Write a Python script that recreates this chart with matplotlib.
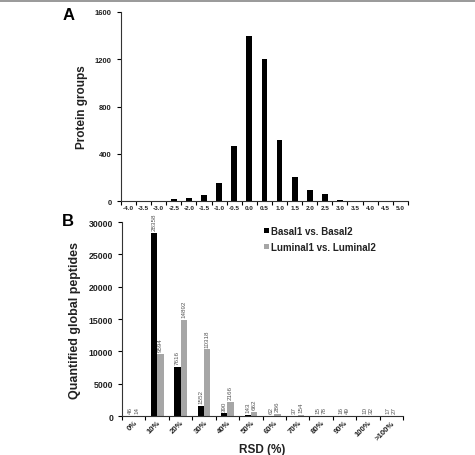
import matplotlib
matplotlib.use("Agg")
import matplotlib.pyplot as plt
from matplotlib.lines import Line2D
import numpy as np

plt.rcParams['font.family'] = ['Liberation Sans', 'DejaVu Sans']

# Panel A: log ratio distribution
ratio_labels = ['-4.0', '-3.5', '-3.0', '-2.5', '-2.0', '-1.5', '-1.0', '-0.5', '0.0',
                '0.5', '1.0', '1.5', '2.0', '2.5', '3.0', '3.5', '4.0', '4.5', '5.0']
protein_groups = [0, 0, 2, 15, 25, 50, 155, 465, 1400, 1200, 515, 200, 95, 60, 10, 0, 0, 0, 0]

# Panel B: RSD distribution
rsd_labels = ['0%', '10%', '20%', '30%', '40%', '50%', '60%', '70%', '80%', '90%', '100%', '>100%']
basal = [46, 28358, 7616, 1552, 390, 143, 62, 37, 15, 16, 10, 17]
luminal = [14, 9594, 14892, 10318, 2166, 662, 286, 154, 78, 49, 32, 27]

txt = '#222222'

fig = plt.figure(figsize=(4.75, 4.56), dpi=100)

# thin gray frame line at the top
fig.add_artist(Line2D([0, 1], [0.995, 0.995], color='#888888', linewidth=1.2))


def category_axis(ax, labels, fontsize, rotation=0):
    n = len(labels)
    x = np.arange(n)
    ax.set_xlim(-0.5, n - 0.5)
    ax.set_xticks(x)
    ax.set_xticklabels(labels, fontsize=fontsize, fontweight='bold', color=txt,
                       rotation=rotation, ha='right' if rotation else 'center',
                       rotation_mode='anchor' if rotation else 'default')
    ax.tick_params(axis='x', which='major', length=0, pad=3)
    ax.set_xticks(np.arange(n + 1) - 0.5, minor=True)
    ax.tick_params(axis='x', which='minor', length=3, width=0.8, direction='out')
    for s in ['top', 'right']:
        ax.spines[s].set_visible(False)
    for s in ['left', 'bottom']:
        ax.spines[s].set_linewidth(0.8)
        ax.spines[s].set_color('#333333')
    ax.tick_params(axis='y', length=3, width=0.8, direction='out')
    return x


# ---- Panel A ----
axA = fig.add_axes([0.2547, 0.557, 0.604, 0.4145])
xa = category_axis(axA, ratio_labels, 4.6)
axA.bar(xa, protein_groups, width=0.38, color='black')
axA.set_ylim(0, 1600)
axA.set_yticks([0, 400, 800, 1200, 1600])
axA.set_yticklabels(['0', '400', '800', '1200', '1600'], fontsize=5.5,
                    fontweight='bold', color=txt)
axA.set_ylabel('Protein groups', fontsize=8.5, fontweight='bold', color=txt)
axA.yaxis.set_label_coords(-0.115, 0.5)
fig.text(0.145, 0.965, 'A', fontsize=12, fontweight='bold', ha='center', va='center')

# ---- Panel B ----
axB = fig.add_axes([0.257, 0.0855, 0.5916, 0.4254])
xb = category_axis(axB, rsd_labels, 5.6, rotation=45)
axB.tick_params(axis='x', which='major', pad=2)
w = 0.27
axB.bar(xb - w / 2, basal, width=w, color='black', label='Basal1 vs. Basal2')
axB.bar(xb + w / 2, luminal, width=w, color='#a6a6a6', label='Luminal1 vs. Luminal2')
axB.set_ylim(0, 30000)
axB.set_yticks(np.arange(0, 30001, 5000))
axB.set_yticklabels([str(v) for v in range(0, 30001, 5000)], fontsize=6.3,
                    fontweight='bold', color=txt)
axB.set_ylabel('Quantified global peptides', fontsize=9, fontweight='bold', color=txt)
axB.yaxis.set_label_coords(-0.145, 0.5)
axB.set_xlabel('RSD (%)', fontsize=8.5, fontweight='bold', color=txt)
axB.xaxis.set_label_coords(0.5, -0.17)
axB.xaxis.label.set_va('center')

for xi, b, l in zip(xb, basal, luminal):
    axB.annotate(str(b), (xi - w / 2, b), xytext=(0, 2), textcoords='offset points',
                 rotation=90, fontsize=4.5, color='#555555', ha='center', va='bottom',
                 annotation_clip=False)
    axB.annotate(str(l), (xi + w / 2, l), xytext=(0, 2), textcoords='offset points',
                 rotation=90, fontsize=4.5, color='#555555', ha='center', va='bottom',
                 annotation_clip=False)

axB.legend(loc='upper left', bbox_to_anchor=(0.49, 1.0), frameon=False,
           handlelength=0.5, handleheight=0.5, handletextpad=0.3,
           labelspacing=0.6, borderaxespad=0,
           prop={'size': 7, 'weight': 'bold'}, labelcolor=txt)
fig.text(0.143, 0.515, 'B', fontsize=12, fontweight='bold', ha='center', va='center')

fig.savefig('out.png', dpi=100)
